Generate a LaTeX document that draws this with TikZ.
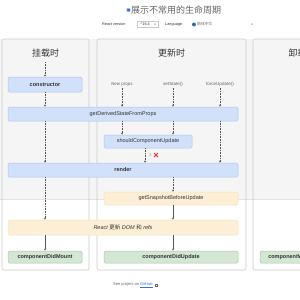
\documentclass[tikz,border=0pt]{standalone}
\usepackage{fontspec}
\setmainfont{Liberation Sans}
\newfontfamily\cjk{Noto Sans CJK SC}
\usetikzlibrary{arrows.meta}
\definecolor{bandgray}{HTML}{F5F5F5}
\definecolor{bandline}{HTML}{E4E4E4}
\definecolor{panelline}{HTML}{CBCBCB}
\definecolor{bluefill}{HTML}{D2E1FA}
\definecolor{blueline}{HTML}{A9C3EE}
\definecolor{yellowfill}{HTML}{FCEFD5}
\definecolor{yellowline}{HTML}{F4E2BE}
\definecolor{greenfill}{HTML}{D4E7D3}
\definecolor{greenline}{HTML}{A9C6A8}
\definecolor{txt}{HTML}{333333}
\definecolor{soft}{HTML}{666666}
\definecolor{arrowc}{HTML}{555555}
\definecolor{linkblue}{HTML}{3B6FC9}
\definecolor{xred}{HTML}{D9342B}
\tikzset{
  panel/.style={draw=panelline, line width=0.6pt, rounded corners=2pt},
  lifebox/.style={draw, line width=0.5pt, rounded corners=1.5pt, inner sep=0pt, text=txt, font=\fontsize{5.5}{6}\selectfont\bfseries},
  bluebox/.style={lifebox, fill=bluefill, draw=blueline},
  yellowbox/.style={lifebox, fill=yellowfill, draw=yellowline, font=\fontsize{5.5}{6}\selectfont},
  greenbox/.style={lifebox, fill=greenfill, draw=greenline},
  header/.style={text=txt, font=\fontsize{9}{10}\selectfont\cjk, inner sep=0pt},
  trigger/.style={text=soft, font=\fontsize{4.5}{5}\selectfont, inner sep=0.5pt},
  flowdot/.style={draw=arrowc, line width=0.35pt, dash pattern=on 0.7pt off 0.9pt, -{Stealth[length=2.2pt,width=2pt]}},
  flowsolid/.style={draw=arrowc, line width=0.4pt, -{Stealth[length=2.2pt,width=2pt]}},
}
\begin{document}
\begin{tikzpicture}[x=1pt,y=-1pt]
\useasboundingbox (0,0) rectangle (300,300);
\clip (0,0) rectangle (300,300);
\fill[white] (0,0) rectangle (300,300);
% render phase band
\fill[bandgray] (0,39) rectangle (300,199);
\draw[bandline, line width=0.5pt] (0,199) -- (300,199);

% top controls
\node[draw=blueline, fill=linkblue, minimum size=3.4pt, inner sep=0pt, rounded corners=0.5pt] (chk) at (128.5,10) {};
\node[anchor=west, inner sep=0pt, text=soft, font=\fontsize{9}{10}\selectfont\cjk] (title) at (131,10) {展示不常用的生命周期};
\node[anchor=west, inner sep=0pt, text=txt, font=\fontsize{3.8}{4}\selectfont] (rv) at (102,24.5) {React version};
\node[draw=panelline, anchor=west, minimum width=21pt, minimum height=6pt, inner sep=0pt, font=\fontsize{3.8}{4}\selectfont, text=txt] (ver) at (137,24.5) {\hspace*{-5pt}\textasciicircum 16.4};
\node[inner sep=0pt, font=\fontsize{3.6}{4}\selectfont, text=txt] (verarrow) at (155,24.5) {\textsf{v}};
\node[anchor=west, inner sep=0pt, text=txt, font=\fontsize{3.8}{4}\selectfont] (lang) at (165,24.5) {Language};
\node[anchor=west, minimum width=64pt, minimum height=6pt, inner sep=0pt, fill=white] (sel) at (191,24.5) {};
\fill[linkblue] (194,24.5) circle (2pt);
\fill[green!50!black] (193.5,24) circle (0.9pt);
\node[anchor=west, inner sep=0pt, text=soft, font=\fontsize{3.8}{4}\selectfont\cjk] (langname) at (197,24.5) {简体中文};
\node[inner sep=0pt, font=\fontsize{3.6}{4}\selectfont, text=txt] (selarrow) at (252,24.5) {\textsf{v}};

% panels
\draw[panel] (2,39) rectangle (89,270);
\draw[panel] (97,39) rectangle (246,270);
\draw[panel] (253,39) rectangle (345,270);
\node[header] (h1) at (45.5,53) {挂载时};
\node[header] (h2) at (171.5,53) {更新时};
\node[header] (h3) at (302,53) {卸载时};
\coordinate (h1b) at (45,62);

% nodes
\node[bluebox, minimum width=74pt, minimum height=15pt] (ctor) at (45,84.5) {constructor};
\node[bluebox, minimum width=230pt, minimum height=14pt, font=\fontsize{5.5}{6}\selectfont] (gdsfp) at (123,114) {getDerivedStateFromProps};
\node[bluebox, minimum width=88pt, minimum height=13pt, font=\fontsize{5.5}{6}\selectfont] (scu) at (148,141.5) {shouldComponentUpdate};
\node[bluebox, minimum width=230pt, minimum height=14pt] (render) at (123,170) {render};
\node[yellowbox, minimum width=134pt, minimum height=13pt] (gsbu) at (171,198.5) {getSnapshotBeforeUpdate};
\node[yellowbox, minimum width=230pt, minimum height=15pt, font=\fontsize{5.5}{6}\selectfont\itshape] (dom) at (123,227.5) {React {\cjk 更新} DOM {\cjk 和} refs};
\node[greenbox, minimum width=74pt, minimum height=12pt] (cdm) at (45,257) {componentDidMount};
\node[greenbox, minimum width=134pt, minimum height=12pt] (cdu) at (171,257) {componentDidUpdate};
\node[greenbox, minimum width=80pt, minimum height=12pt] (cwu) at (300,257) {componentWillUnmount};

% triggers
\node[trigger, font=\fontsize{4.5}{5}\selectfont\itshape] (np) at (122,84) {New props};
\node[trigger] (ss) at (173,84) {setState()};
\node[trigger] (fu) at (220,84) {forceUpdate()};

% mounting flow
\draw[flowdot] (h1b) -- (ctor.north -| h1b);
\draw[flowdot] (ctor.south -| h1b) -- (gdsfp.north -| h1b);
\draw[flowdot] (gdsfp.south -| h1b) -- (render.north -| h1b);
\draw[flowdot] (render.south -| h1b) -- (dom.north -| h1b);
\draw[flowsolid] (dom.south -| h1b) -- (cdm.north -| h1b);

% updating flow
\draw[flowdot] (np.south) ++(0,1) -- (gdsfp.north -| np);
\draw[flowdot] (ss.south) ++(0,1) -- (gdsfp.north -| ss);
\draw[flowdot] (fu.south) ++(0,1) -- (gdsfp.north -| fu);
\draw[flowdot] (gdsfp.south -| np) -- (scu.north -| np);
\draw[flowdot] (gdsfp.south -| ss) -- (scu.north -| ss);
\draw[flowdot] (gdsfp.south -| fu) -- (render.north -| fu);
\coordinate (scux) at (145,0);
\draw[flowdot] (scu.south -| scux) -- (render.north -| scux);
\draw[soft, line width=0.35pt] (149.5,153) -- (151,154.5);
\draw[soft, line width=0.35pt] (149.5,155) -- (150.5,156);
\draw[xred, line width=0.9pt] (154,153) -- (158,157) (158,153) -- (154,157);
\draw[flowdot] (render.south -| ss) -- (gsbu.north -| ss);
\draw[flowsolid] (gsbu.south -| ss) -- (dom.north -| ss);
\draw[flowsolid] (dom.south -| ss) -- (cdu.north -| ss);

% footer
\node[anchor=west, inner sep=0pt, text=soft, font=\fontsize{4}{5}\selectfont] (see) at (113,285) {See project on \textcolor{linkblue}{\underline{GitHub}}};
\draw[soft, line width=0.3pt] ([xshift=2pt]see.east) ++(0,-1.2) rectangle ++(2.4,2.4);
\end{tikzpicture}
\end{document}
